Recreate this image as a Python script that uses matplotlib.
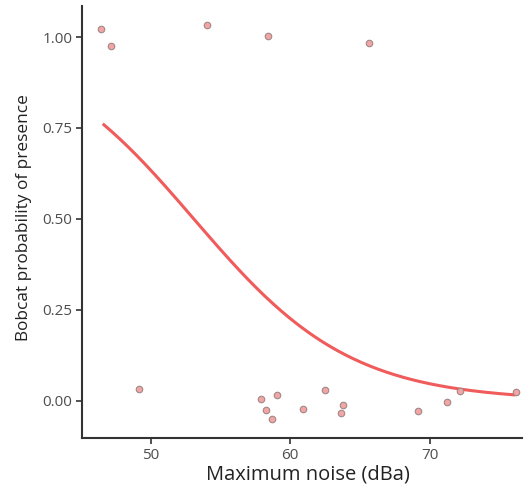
import numpy as np
import matplotlib
matplotlib.use("Agg")
import matplotlib.pyplot as plt

# observed points (jittered as in the original)
noise = [46.44, 47.15, 54.04, 58.41, 65.65,
         49.14, 57.89, 59.03, 58.24, 58.70, 60.90, 62.52, 63.74,
         63.64, 69.18, 71.22, 72.19, 76.14]
presence = [1.022, 0.975, 1.033, 1.003, 0.984,
            0.033, 0.005, 0.015, -0.026, -0.051, -0.022, 0.031, -0.010,
            -0.034, -0.028, -0.004, 0.027, 0.025]

# logistic fit
intercept = 9.45
slope = -0.178
curve_from, curve_to = 46.65, 76.0

xticks = [50, 60, 70]
yticks = [0.0, 0.25, 0.5, 0.75, 1.0]
ytick_labels = ["0.00", "0.25", "0.50", "0.75", "1.00"]

plt.rcParams['font.family'] = ['Open Sans', 'DejaVu Sans']

fig = plt.figure(figsize=(5.27, 4.88), dpi=100)
ax = fig.add_axes([0.1556, 0.1025, 0.835, 0.885])

xs = np.linspace(curve_from, curve_to, 200)
ps = 1 / (1 + np.exp(-(intercept + slope * xs)))
ax.plot(xs, ps, color='#F05B5B', lw=2.2, zorder=2)

ax.scatter(noise, presence, s=22, facecolor='#F3A5A5', edgecolor='#a08888',
           linewidths=0.8, zorder=3)

ax.set_xlim(45.08, 76.6)
ax.set_ylim(-0.102, 1.085)
ax.set_xticks(xticks)
ax.set_yticks(yticks)
ax.set_yticklabels(ytick_labels)

for s in ['top', 'right']:
    ax.spines[s].set_visible(False)
for s in ['left', 'bottom']:
    ax.spines[s].set_linewidth(1.5)
    ax.spines[s].set_color('#333333')

ax.tick_params(axis='both', length=4, width=1.2, color='#333333',
               labelcolor='#4D4D4D', labelsize=11, pad=3)

ax.set_xlabel('Maximum noise (dBa)', fontsize=14.5, color='#222222', labelpad=2)
ax.xaxis.set_label_coords(0.514, -0.062)
ax.set_ylabel('Bobcat probability of presence', fontsize=12.4, color='#222222')
ax.yaxis.set_label_coords(-0.113, 0.51)

fig.savefig('out.png', dpi=100)
